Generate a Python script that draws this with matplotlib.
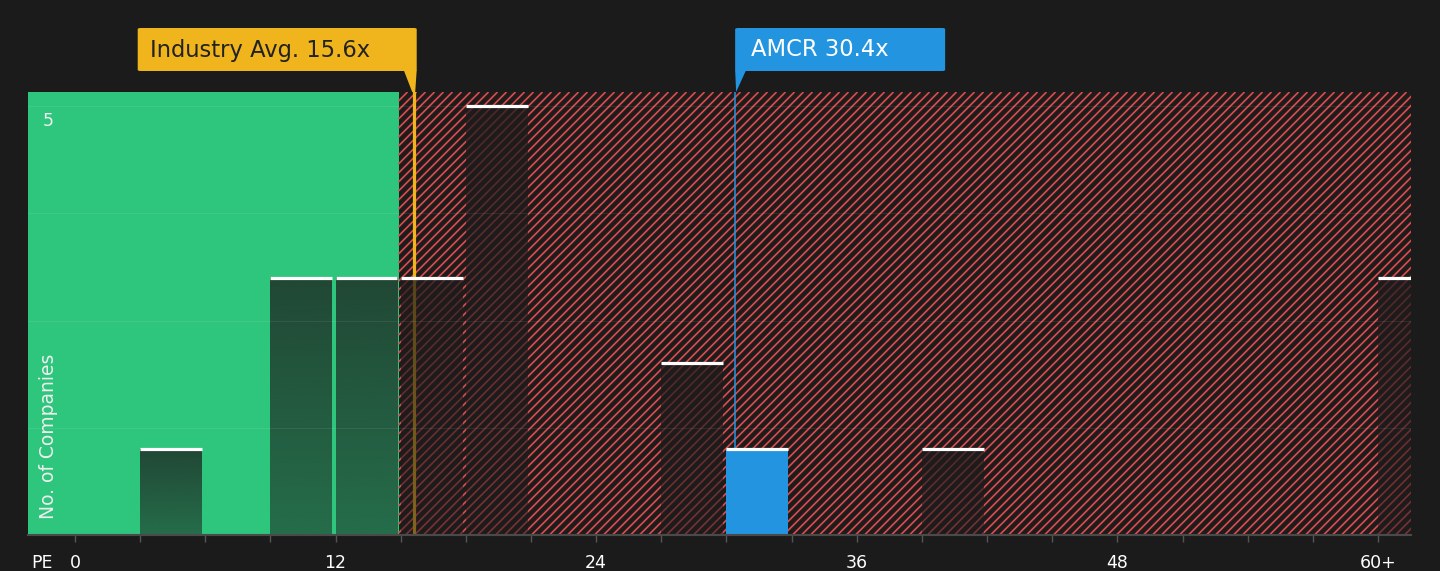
import matplotlib.pyplot as plt
import numpy as np
from matplotlib.patches import Rectangle, FancyBboxPatch, Polygon
from matplotlib.collections import LineCollection

# Histogram of peer PE ratios (bins of 3x)
bin_left = [3, 9, 12, 15, 18, 27, 30, 39, 60]
counts = [1, 3, 3, 3, 5, 2, 1, 1, 3]
industry_avg = 15.6
company = "AMCR"
company_pe = 30.4
fair_limit = 14.9
x_tick_vals = [0, 12, 24, 36, 48, 60]
x_tick_text = ["0", "12", "24", "36", "48", "60+"]

BG = "#1b1b1b"
GREEN = "#2ec57d"
RED = "#d84b4f"
ORANGE = "#f0b41c"
BLUE = "#2394e0"

plt.rcParams["font.family"] = ["DejaVu Sans"]

W, H = 1440, 571
fig = plt.figure(figsize=(W / 100, H / 100), dpi=100, facecolor=BG)
ax = fig.add_axes([28 / W, (H - 535) / H, (1411 - 28) / W, (535 - 92) / H])
ax.set_facecolor(BG)
xmin, xmax = -2.16, 61.52
ymax = 5.165
ax.set_xlim(xmin, xmax)
ax.set_ylim(0, ymax)

# green (undervalued) zone
ax.add_patch(Rectangle((xmin, 0), fair_limit - xmin, ymax, facecolor=GREEN,
                       edgecolor="none", zorder=0))

# red hatched (overvalued) zone, diagonal lines at 45 degrees on screen
ax.add_patch(Rectangle((fair_limit, 0), xmax - fair_limit, ymax, facecolor="#1e1b1b",
                       edgecolor="none", zorder=0))
px_x = ax.transData.transform((1, 0))[0] - ax.transData.transform((0, 0))[0]
px_y = ax.transData.transform((0, 1))[1] - ax.transData.transform((0, 0))[1]
step = 9 / px_x
rise = ymax * px_y / px_x      # x-run needed to climb the full height
segs = []
for s in np.arange(fair_limit - rise, xmax + step, step):
    x0, y0 = s, 0.0
    if x0 < fair_limit:
        y0 = (fair_limit - s) / rise * ymax
        x0 = fair_limit
    segs.append([(x0, y0), (s + rise, ymax)])
ax.add_collection(LineCollection(segs, colors=RED, linewidths=1.25, zorder=0.5))

# reference lines
ax.axvline(industry_avg, color=ORANGE, lw=2.3, zorder=1)
ax.axvline(company_pe, color=BLUE, lw=1.1, zorder=1)

# bars
bw = 2.85
grad = np.linspace(0.74, 0.52, 64).reshape(-1, 1)
for left, c in zip(bin_left, counts):
    if left <= company_pe < left + 3:
        ax.add_patch(Rectangle((left, 0), bw, c, facecolor=BLUE, edgecolor="none", zorder=3))
    else:
        rgba = np.zeros((64, 1, 4))
        rgba[..., :3] = np.array([29, 27, 27]) / 255
        rgba[..., 3] = grad
        ax.imshow(rgba, extent=(left, left + bw, 0, c), aspect="auto",
                  interpolation="bilinear", zorder=3)
    ax.plot([left, left + bw], [c, c], color="white", lw=2.3, solid_capstyle="butt", zorder=4)
ax.set_xlim(xmin, xmax)
ax.set_ylim(0, ymax)

# grid
for gy in [1.25, 2.5, 3.75, 5]:
    ax.axhline(gy, color="white", alpha=0.08, lw=0.8, zorder=5)

# axes styling
for s in ["top", "right", "left"]:
    ax.spines[s].set_visible(False)
ax.spines["bottom"].set_color("#4a4a4a")
ax.spines["bottom"].set_linewidth(1.5)
ax.spines["bottom"].set_zorder(6)
ax.set_yticks([])
ax.set_xticks(np.arange(0, 61, 3))
ax.set_xticklabels([x_tick_text[x_tick_vals.index(v)] if v in x_tick_vals else ""
                    for v in range(0, 61, 3)])
ax.tick_params(axis="x", colors="#555555", length=5, width=1, pad=9,
               labelcolor="white", labelsize=12.5)

ax.text(-1.25, 4.93, "5", transform=ax.transData, color="#eeeeee", fontsize=12.5,
        ha="center", va="top")
ax.text(0.015, 0.035, "No. of Companies", transform=ax.transAxes, rotation=90,
        color="#eeeeee", fontsize=13.5, ha="center", va="bottom")
fig.text(42 / W, 1 - 563 / H, "PE", color="white", fontsize=12.5, ha="center", va="center")

# callout labels
def fx(px):
    return px / W

def fy(py):
    return 1 - py / H

xa = ax.transData.transform((industry_avg, 0))[0]
xc = ax.transData.transform((company_pe, 0))[0]

box1 = FancyBboxPatch((fx(xa - 276), fy(71)), fx(279), 43 / H,
                      boxstyle="round,pad=0,rounding_size=0.002",
                      transform=fig.transFigure, facecolor=ORANGE, edgecolor="none")
fig.patches.append(box1)
fig.patches.append(Polygon([(fx(xa - 10), fy(70)), (fx(xa + 3), fy(70)),
                            (fx(xa + 1.5), fy(92)), (fx(xa - 1.5), fy(92))],
                           closed=True, transform=fig.transFigure,
                           facecolor=ORANGE, edgecolor="none"))
fig.text(fx(xa - 264), fy(50), f"Industry Avg. {industry_avg}x", color="#222222",
         fontsize=16.3, ha="left", va="center")

box2 = FancyBboxPatch((fx(xc), fy(71)), fx(210), 43 / H,
                      boxstyle="round,pad=0,rounding_size=0.002",
                      transform=fig.transFigure, facecolor=BLUE, edgecolor="none")
fig.patches.append(box2)
fig.patches.append(Polygon([(fx(xc), fy(70)), (fx(xc + 11), fy(70)),
                            (fx(xc + 1), fy(92))],
                           closed=True, transform=fig.transFigure,
                           facecolor=BLUE, edgecolor="none"))
fig.text(fx(xc + 16), fy(50), f"{company} {company_pe}x", color="white",
         fontsize=16.3, ha="left", va="center")

fig.savefig("out.png", dpi=100, facecolor=BG)
